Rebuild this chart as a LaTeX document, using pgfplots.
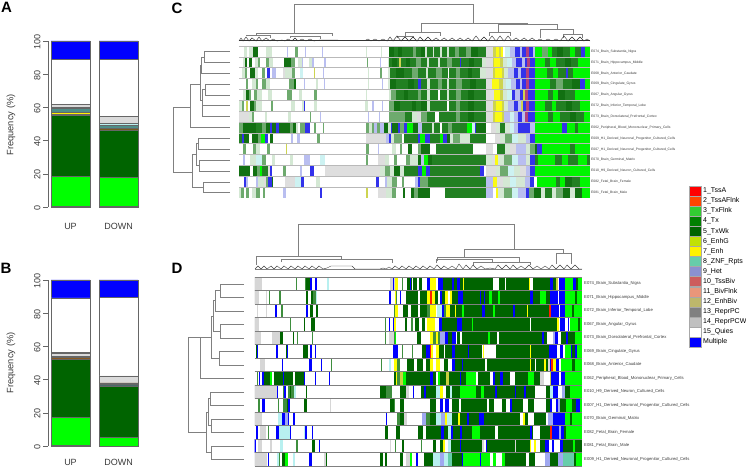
\documentclass[border=0pt]{standalone}
\usepackage{fontspec}
\setmainfont{Liberation Sans}
\usepackage{pgfplots}
\pgfplotsset{compat=1.18}
\definecolor{txtc}{HTML}{3A3A3A}
\definecolor{bedge}{HTML}{666666}
\definecolor{dgr}{HTML}{808080}
\definecolor{sbrown}{HTML}{8A5A20}
\definecolor{steal}{HTML}{4F8F88}
\definecolor{scyan}{HTML}{B8F0F0}
\definecolor{slg}{HTML}{DADADA}
\definecolor{sgr}{HTML}{A8A8A8}
\definecolor{sslate}{HTML}{4A6A6A}
\definecolor{sdg}{HTML}{006400}
\pgfplotsset{
 stcol/.style={colormap={st}{rgb255=(255,255,255) rgb255=(0,100,0) rgb255=(0,255,0) rgb255=(0,0,255) rgb255=(255,255,0) rgb255=(214,214,214) rgb255=(62,142,62) rgb255=(184,240,240) rgb255=(255,32,0) rgb255=(160,168,240) rgb255=(191,221,191) rgb255=(26,125,26) rgb255=(144,144,144) rgb255=(176,64,128) rgb255=(200,208,64) rgb255=(102,205,170)},
 colormap access=direct},
 stcolc/.style={colormap={stc}{rgb255=(255,255,255) rgb255=(18,112,18) rgb255=(0,245,0) rgb255=(50,50,235) rgb255=(250,250,20) rgb255=(222,222,222) rgb255=(110,170,110) rgb255=(205,242,242) rgb255=(240,50,20) rgb255=(185,190,240) rgb255=(212,232,212) rgb255=(34,128,34) rgb255=(160,160,160) rgb255=(176,64,128) rgb255=(205,212,80) rgb255=(120,205,175)},
 colormap access=direct},
 hm/.style={mesh,shader=flat corner,point meta=explicit,stcol,no markers,line cap=butt,forget plot},
 hmc/.style={mesh,shader=flat corner,point meta=explicit,stcolc,no markers,line cap=butt,forget plot},
 barax/.style={scale only axis,width=97pt,height=166pt,xmin=48,xmax=145,ymin=0,ymax=100,
  ybar stacked,bar width=39pt,bar shift=0pt,axis y line*=left,axis x line*=bottom,
  x axis line style={draw=none},y axis line style={bedge,line width=.5pt},
  xtick={70.5,118.5},xticklabels={UP,DOWN},xtick style={draw=none},
  ytick={0,20,40,60,80,100},tick align=outside,ytick style={bedge,line width=.5pt},
  major tick length=5pt,
  /pgf/number format/assume math mode=true,
  ticklabel style={font=\fontsize{9}{9}\selectfont,text=txtc},
  yticklabel style={rotate=90,anchor=south,xshift=-1pt,yshift=-1pt},
  every axis plot/.append style={draw=bedge,line width=.5pt},
  clip=false},
 dendro/.style={forget plot,no markers,dgr,line width=.5pt,unbounded coords=jump},
}
\newcommand\hr[3]{\addplot[hm,line width=#1pt] table[row sep=\\,header=false,x index=0,y expr=#2,meta index=1]{#3};}
\newcommand\hc[2]{\addplot[hmc,line width=10.9pt] table[row sep=\\,header=false,x index=0,y expr=#1,meta index=1]{#2};}
\newcommand\lab[3]{\node[anchor=west,inner sep=0pt,text=txtc,font=\fontsize{#1}{#1}\selectfont] at (axis cs:#2) {#3};}
\newcommand\leg[4]{\fill[fill=#2,draw=sgr,line width=.3pt] (axis cs:689,#1-5) rectangle (axis cs:701,#1+5);
 \node[anchor=west,inner sep=0pt,text=black,font=\fontsize{7}{7}\selectfont] at (axis cs:703,#1) {#3};}
\begin{document}
\begin{tikzpicture}[x=1pt,y=1pt]
\path[use as bounding box] (0,0) rectangle (746,468);
% Panel A
\begin{axis}[barax,xticklabel style={yshift=-8pt},at={(48pt,261pt)},anchor=south west]
\addplot[fill=black] coordinates {(70.5,0.5)(118.5,0.5)};
\addplot[fill=green] coordinates {(70.5,18)(118.5,17.5)};
\addplot[fill=sdg] coordinates {(70.5,36.5)(118.5,28.5)};
\addplot[fill=sbrown] coordinates {(70.5,0.8)(118.5,0.8)};
\addplot[fill=yellow] coordinates {(70.5,1.2)(118.5,0.2)};
\addplot[fill=steal] coordinates {(70.5,2.2)(118.5,1.7)};
\addplot[fill=scyan] coordinates {(70.5,0.8)(118.5,1)};
\addplot[fill=slg] coordinates {(70.5,2)(118.5,4.3)};
\addplot[fill=white] coordinates {(70.5,27)(118.5,34.5)};
\addplot[fill=blue] coordinates {(70.5,11)(118.5,11)};
\end{axis}
% Panel B
\begin{axis}[barax,xticklabel style={yshift=-5pt},at={(48pt,22pt)},anchor=south west]
\addplot[fill=black] coordinates {(70.5,0.3)(118.5,0)};
\addplot[fill=green] coordinates {(70.5,17)(118.5,5)};
\addplot[fill=sdg] coordinates {(70.5,34.7)(118.5,31)};
\addplot[fill=sslate] coordinates {(70.5,0)(118.5,1)};
\addplot[fill=sbrown] coordinates {(70.5,1.3)(118.5,1)};
\addplot[fill=sslate] coordinates {(70.5,1)(118.5,0)};
\addplot[fill=slg] coordinates {(70.5,1.7)(118.5,4.3)};
\addplot[fill=sgr] coordinates {(70.5,0.7)(118.5,0)};
\addplot[fill=white] coordinates {(70.5,32.6)(118.5,47.2)};
\addplot[fill=blue] coordinates {(70.5,10.7)(118.5,10.5)};
\end{axis}
% Heatmap C
\begin{axis}[at={(239pt,270pt)},anchor=south west,scale only axis,width=351pt,height=152pt,xmin=239,xmax=590,ymin=0,ymax=14,y dir=reverse,hide axis]
\hc{0.5}{239 0\\244 10\\247 0\\249 10\\253 1\\258 0\\266 10\\272 0\\287 9\\288 0\\295 6\\298 0\\305 9\\306 0\\322 9\\323 0\\366 10\\367 0\\381 10\\382 0\\389 1\\394 11\\398 1\\402 11\\413 6\\416 11\\421 1\\425 10\\427 11\\433 10\\434 11\\440 10\\442 11\\447 10\\449 11\\455 6\\459 11\\466 6\\471 1\\478 11\\486 5\\493 14\\496 4\\499 14\\501 4\\503 0\\505 7\\510 9\\515 3\\520 9\\522 3\\526 13\\529 3\\533 9\\535 2\\542 6\\548 2\\552 11\\557 1\\563 11\\570 2\\575 11\\581 3\\585 2\\590 2\\}
\hc{1.5}{239 0\\243 10\\245 1\\247 0\\249 1\\252 0\\255 10\\258 6\\260 0\\266 6\\269 10\\273 0\\284 1\\291 6\\295 0\\298 10\\302 9\\303 0\\309 10\\312 9\\314 0\\324 9\\326 0\\367 6\\368 0\\380 9\\381 0\\388 10\\389 11\\392 1\\397 11\\399 14\\401 11\\406 1\\410 11\\416 6\\421 11\\427 10\\429 11\\438 10\\440 11\\447 6\\452 11\\460 3\\461 11\\469 1\\474 11\\482 10\\486 5\\493 14\\494 4\\500 14\\503 10\\507 7\\512 9\\516 3\\522 9\\525 3\\527 13\\530 3\\535 2\\545 11\\550 2\\556 11\\565 1\\571 11\\578 2\\590 2\\}
\hc{2.5}{239 0\\242 10\\245 6\\247 0\\250 1\\255 10\\258 0\\262 6\\265 0\\267 3\\270 0\\272 9\\276 0\\283 5\\285 10\\292 6\\295 0\\300 7\\303 0\\314 14\\315 0\\323 9\\324 0\\368 10\\369 0\\380 6\\382 0\\388 10\\390 11\\396 1\\404 11\\412 6\\418 11\\426 10\\428 11\\436 6\\442 11\\448 0\\449 11\\456 6\\460 11\\468 1\\472 11\\480 10\\486 5\\493 14\\495 4\\502 14\\504 10\\508 9\\514 3\\518 9\\521 3\\526 13\\529 3\\535 2\\547 11\\553 2\\558 11\\566 3\\568 11\\573 2\\590 2\\}
\hc{3.5}{239 0\\246 6\\248 0\\252 10\\256 6\\258 0\\262 6\\266 10\\270 0\\289 6\\294 1\\296 0\\304 9\\305 0\\316 10\\318 0\\324 9\\325 0\\368 10\\369 0\\382 9\\383 0\\388 10\\390 1\\396 11\\408 1\\414 11\\418 3\\421 11\\427 10\\430 11\\438 6\\442 11\\447 10\\449 11\\456 6\\462 11\\470 1\\476 11\\486 5\\492 4\\499 14\\503 10\\506 7\\511 9\\516 3\\520 9\\522 3\\526 13\\529 3\\535 2\\550 11\\556 6\\563 11\\572 1\\580 3\\585 2\\590 2\\}
\hc{4.5}{239 0\\243 10\\246 1\\249 6\\251 0\\254 6\\257 10\\262 0\\268 10\\272 0\\287 6\\292 0\\299 10\\302 0\\314 6\\317 0\\366 10\\367 0\\389 10\\391 6\\396 11\\404 1\\408 11\\418 6\\421 11\\427 10\\430 11\\438 0\\440 11\\447 10\\449 11\\456 6\\461 11\\468 1\\474 11\\486 5\\494 4\\500 14\\503 10\\507 7\\512 3\\515 9\\520 3\\523 14\\525 13\\528 3\\535 2\\548 11\\553 2\\558 1\\565 11\\575 2\\590 2\\}
\hc{5.5}{239 10\\242 6\\244 0\\246 14\\248 0\\250 1\\254 6\\256 10\\262 0\\271 6\\273 0\\291 10\\295 0\\302 10\\304 3\\305 0\\314 10\\317 0\\365 10\\368 0\\372 9\\374 0\\382 9\\383 0\\389 6\\394 1\\400 11\\412 1\\416 11\\421 1\\427 10\\430 11\\447 0\\449 11\\456 6\\460 11\\468 1\\474 11\\486 5\\493 14\\496 4\\502 14\\504 10\\508 9\\514 3\\518 9\\521 14\\523 3\\526 13\\529 3\\535 2\\545 11\\552 2\\556 11\\566 1\\572 11\\580 2\\590 2\\}
\hc{6.5}{239 5\\249 10\\252 6\\254 0\\265 10\\267 0\\288 10\\291 0\\310 6\\311 0\\320 9\\321 0\\368 9\\369 0\\379 9\\380 0\\389 6\\405 11\\412 10\\417 5\\421 6\\427 11\\435 0\\439 11\\456 6\\460 11\\468 1\\474 11\\486 5\\493 14\\495 4\\502 14\\504 9\\510 7\\514 9\\518 3\\522 9\\525 13\\528 3\\535 2\\548 11\\553 2\\560 11\\570 1\\576 11\\584 2\\590 2\\}
\hc{7.5}{239 6\\243 1\\256 11\\262 6\\266 1\\270 3\\272 1\\276 3\\279 1\\290 6\\293 1\\296 10\\298 0\\300 6\\305 3\\310 0\\314 6\\316 0\\323 6\\324 0\\366 6\\369 10\\372 6\\374 9\\377 6\\380 9\\384 1\\388 10\\391 3\\392 1\\398 3\\400 6\\404 3\\407 2\\413 1\\418 9\\422 11\\432 10\\434 11\\440 0\\442 11\\448 6\\452 11\\467 2\\472 7\\475 3\\476 1\\486 0\\491 5\\496 10\\500 11\\505 10\\510 7\\514 9\\518 3\\530 9\\535 2\\562 3\\567 2\\575 11\\578 2\\590 2\\}
\hc{8.5}{239 11\\242 3\\244 1\\249 0\\252 1\\258 6\\261 2\\265 3\\268 0\\270 1\\273 0\\291 9\\293 0\\297 9\\300 0\\317 6\\320 0\\366 5\\386 9\\389 3\\391 10\\394 6\\402 0\\404 11\\418 3\\420 2\\425 3\\430 11\\440 2\\443 3\\447 1\\450 10\\453 6\\460 10\\470 11\\486 0\\495 5\\500 10\\505 6\\512 7\\518 10\\526 9\\530 3\\535 2\\590 2\\}
\hc{9.5}{239 0\\243 6\\246 0\\253 6\\256 10\\260 0\\267 6\\270 0\\286 14\\287 0\\366 6\\369 0\\378 9\\379 0\\392 10\\396 0\\400 6\\402 0\\408 1\\412 0\\418 6\\421 1\\430 0\\436 11\\473 0\\486 5\\493 0\\497 11\\505 10\\510 5\\516 9\\526 10\\530 6\\535 1\\537 3\\542 2\\570 11\\575 2\\590 1\\}
\hc{10.5}{239 0\\243 9\\245 0\\250 10\\256 7\\262 6\\266 0\\272 10\\275 0\\290 10\\293 0\\304 9\\310 0\\320 7\\325 0\\366 6\\368 0\\378 5\\385 10\\389 0\\394 6\\397 0\\406 6\\410 10\\418 1\\421 9\\424 2\\428 1\\432 11\\486 10\\492 5\\495 4\\498 10\\504 6\\512 7\\518 9\\526 10\\530 3\\535 11\\538 2\\555 11\\562 2\\568 11\\578 2\\587 11\\590 1\\}
\hc{11.5}{239 1\\250 0\\253 1\\257 6\\260 2\\262 11\\268 5\\270 3\\272 0\\283 6\\286 0\\300 9\\302 0\\310 3\\314 0\\325 5\\366 5\\380 10\\385 6\\390 10\\394 1\\400 10\\404 11\\418 3\\422 2\\426 3\\430 11\\480 3\\484 0\\486 5\\496 10\\500 6\\508 7\\514 10\\520 5\\526 9\\530 3\\535 2\\590 2\\}
\hc{12.5}{239 0\\244 3\\246 9\\248 0\\256 9\\258 10\\264 5\\266 6\\268 3\\272 1\\273 0\\285 5\\295 7\\301 3\\304 0\\316 10\\320 0\\366 0\\376 3\\379 0\\385 9\\387 10\\392 6\\397 0\\402 6\\404 0\\415 9\\418 3\\420 6\\428 11\\486 9\\493 4\\497 5\\503 10\\510 7\\516 10\\525 9\\530 3\\534 0\\537 2\\556 11\\560 2\\565 1\\572 11\\580 2\\590 2\\}
\hc{13.5}{239 10\\241 6\\244 0\\246 6\\249 0\\252 10\\256 6\\260 0\\263 6\\265 0\\283 9\\286 0\\320 3\\322 0\\366 14\\368 0\\378 5\\386 10\\392 6\\396 0\\403 1\\405 0\\411 1\\414 6\\418 1\\430 0\\445 11\\486 9\\493 0\\496 4\\498 10\\504 6\\512 7\\518 9\\526 3\\529 6\\534 1\\541 10\\545 11\\552 10\\556 6\\563 1\\570 10\\575 1\\582 2\\590 2\\}
\addplot[forget plot,no markers,color=sgr!80!white,line width=.6pt,unbounded coords=jump] coordinates {(239,0)(590,0)(239,nan)(239,1)(590,1)(239,nan)(239,2)(590,2)(239,nan)(239,3)(590,3)(239,nan)(239,4)(590,4)(239,nan)(239,5)(590,5)(239,nan)(239,6)(590,6)(239,nan)(239,7)(590,7)(239,nan)(239,8)(590,8)(239,nan)(239,9)(590,9)(239,nan)(239,10)(590,10)(239,nan)(239,11)(590,11)(239,nan)(239,12)(590,12)(239,nan)(239,13)(590,13)};
\end{axis}
% Heatmap D
\begin{axis}[at={(254.7pt,2pt)},anchor=south west,scale only axis,width=327.3pt,height=189pt,xmin=254.7,xmax=582,ymin=0,ymax=14,y dir=reverse,hide axis]
\hr{13.6}{0.5}{254 5\\262 0\\296 6\\297 0\\305 6\\306 1\\310 3\\312 0\\315 3\\317 0\\327 7\\329 0\\390 5\\393 3\\394 5\\395 4\\398 0\\402 6\\403 0\\407 1\\410 3\\411 1\\412 0\\413 1\\417 0\\419 1\\422 0\\427 3\\430 4\\436 0\\438 3\\443 1\\452 3\\454 1\\457 3\\460 1\\463 4\\464 1\\493 0\\499 1\\505 0\\506 1\\529 4\\530 0\\533 1\\550 3\\553 1\\556 14\\558 0\\559 3\\565 2\\573 3\\576 1\\578 2\\582 2\\}
\hr{13.6}{1.5}{254 5\\259 0\\266 5\\267 0\\269 6\\270 0\\279 6\\281 0\\306 1\\308 0\\311 1\\313 6\\316 7\\317 0\\389 3\\391 0\\395 4\\396 6\\397 0\\400 3\\401 0\\406 1\\418 0\\420 1\\427 4\\430 8\\432 4\\435 1\\438 0\\440 3\\442 1\\445 4\\448 0\\450 4\\452 1\\458 3\\463 1\\480 3\\481 1\\484 3\\485 1\\489 2\\492 1\\498 2\\500 1\\530 3\\533 1\\540 2\\546 1\\550 3\\558 0\\559 3\\565 2\\575 1\\577 2\\582 2\\}
\hr{13.6}{2.5}{254 0\\257 5\\258 0\\266 5\\267 0\\275 3\\277 0\\281 6\\283 0\\306 3\\308 0\\310 1\\313 0\\316 1\\318 0\\394 6\\395 4\\398 0\\403 1\\408 0\\411 1\\418 0\\420 1\\427 6\\430 4\\436 0\\437 7\\442 3\\444 6\\446 4\\450 1\\455 4\\456 1\\462 2\\464 1\\482 3\\485 1\\493 2\\495 1\\513 3\\515 1\\527 4\\528 1\\549 8\\551 3\\559 0\\560 3\\565 2\\572 1\\574 2\\582 2\\}
\hr{13.6}{3.5}{254 5\\259 0\\290 6\\291 0\\304 1\\305 0\\311 1\\315 0\\385 6\\386 0\\389 3\\390 0\\393 3\\394 4\\396 0\\405 1\\407 0\\411 6\\413 0\\415 1\\419 0\\422 1\\425 0\\427 4\\430 4\\435 0\\439 3\\442 1\\449 1\\457 3\\462 1\\472 2\\473 1\\530 0\\531 1\\556 1\\557 4\\559 0\\560 3\\565 0\\568 3\\569 0\\570 2\\578 1\\580 2\\582 2\\}
\hr{13.6}{4.5}{254 5\\261 0\\272 5\\280 1\\283 0\\293 1\\294 0\\297 6\\298 0\\312 6\\313 0\\385 6\\386 0\\389 5\\394 6\\395 2\\396 0\\417 1\\421 0\\430 4\\433 6\\436 4\\438 6\\440 9\\445 3\\448 1\\452 3\\456 0\\457 1\\460 0\\462 1\\488 2\\490 1\\497 0\\499 1\\542 3\\544 1\\547 0\\553 9\\555 3\\558 0\\561 1\\566 3\\568 1\\575 2\\582 2\\}
\hr{13.6}{5.5}{254 0\\256 1\\257 3\\258 0\\276 3\\278 0\\286 1\\287 3\\288 0\\303 1\\308 0\\310 3\\312 0\\315 3\\316 0\\393 3\\398 0\\402 6\\403 0\\412 6\\413 0\\422 1\\426 3\\430 8\\431 4\\433 0\\436 4\\439 1\\444 0\\445 1\\452 3\\455 1\\468 3\\469 1\\482 0\\483 4\\484 0\\496 1\\530 4\\531 1\\549 3\\557 0\\560 3\\563 0\\565 2\\571 3\\572 1\\575 3\\577 2\\582 2\\}
\hr{13.6}{6.5}{254 0\\260 5\\265 0\\282 3\\283 0\\309 3\\312 0\\321 3\\322 0\\331 6\\332 0\\381 6\\382 0\\389 7\\391 0\\394 4\\397 6\\400 0\\407 1\\414 0\\417 1\\423 0\\426 1\\430 4\\433 0\\436 4\\440 0\\444 1\\448 0\\452 3\\455 1\\462 3\\463 1\\480 1\\485 0\\487 1\\530 4\\531 1\\535 0\\536 1\\544 4\\546 1\\548 5\\550 3\\551 8\\553 4\\556 3\\559 0\\561 2\\572 1\\575 2\\582 2\\}
\hr{13.6}{7.5}{254 0\\257 6\\258 0\\259 3\\260 0\\262 3\\264 1\\270 2\\272 0\\274 1\\283 3\\284 1\\293 0\\295 1\\304 3\\305 0\\315 3\\316 0\\329 3\\330 0\\394 1\\396 4\\397 6\\400 14\\403 2\\406 1\\430 3\\433 1\\436 0\\438 2\\440 1\\446 14\\449 1\\460 3\\461 1\\466 2\\476 0\\478 1\\490 0\\493 3\\495 1\\500 3\\503 1\\510 0\\515 1\\528 2\\534 1\\540 5\\544 0\\550 14\\551 3\\559 0\\561 3\\565 2\\582 2\\}
\hr{13.6}{8.5}{254 5\\277 3\\278 0\\283 6\\284 3\\286 0\\288 6\\290 1\\291 6\\294 7\\296 0\\306 1\\307 0\\380 1\\386 6\\392 0\\400 1\\406 5\\409 0\\413 3\\414 0\\421 1\\424 3\\426 1\\430 1\\436 7\\440 4\\443 0\\446 1\\450 7\\452 1\\460 2\\476 1\\481 2\\484 1\\495 3\\497 1\\515 3\\516 1\\524 3\\526 1\\535 0\\546 1\\550 7\\553 3\\558 0\\562 9\\565 1\\570 2\\582 2\\}
\hr{13.6}{9.5}{254 0\\258 6\\260 0\\262 3\\265 0\\278 6\\279 0\\283 6\\287 1\\288 3\\290 0\\304 1\\307 0\\330 5\\331 0\\390 1\\394 6\\395 0\\400 1\\404 0\\430 1\\436 0\\440 3\\443 0\\445 3\\449 0\\452 1\\459 0\\461 1\\487 0\\489 1\\494 0\\502 1\\506 0\\510 3\\512 1\\523 0\\528 1\\534 0\\546 1\\550 3\\552 0\\556 3\\558 9\\560 1\\566 2\\572 1\\576 3\\580 2\\582 2\\}
\hr{13.6}{10.5}{254 5\\262 0\\278 7\\282 3\\285 9\\288 3\\289 0\\293 3\\295 0\\386 3\\387 0\\397 6\\400 1\\404 5\\407 0\\422 9\\426 6\\430 1\\436 7\\441 9\\445 4\\447 7\\452 1\\458 4\\460 1\\467 3\\469 1\\479 3\\484 1\\520 0\\523 4\\525 1\\528 0\\534 1\\546 0\\548 9\\553 3\\565 2\\570 1\\572 2\\582 2\\}
\hr{13.6}{11.5}{254 0\\256 3\\258 0\\260 5\\266 0\\268 6\\269 0\\276 3\\279 7\\290 3\\291 0\\304 7\\305 3\\307 0\\312 3\\313 0\\385 1\\388 0\\396 1\\400 0\\418 1\\423 0\\426 1\\441 3\\444 1\\448 7\\451 3\\453 1\\460 3\\462 1\\472 2\\480 1\\495 0\\498 1\\530 3\\532 1\\533 0\\540 1\\550 8\\552 3\\559 9\\561 3\\564 1\\566 2\\582 2\\}
\hr{13.6}{12.5}{254 3\\256 0\\258 5\\262 0\\270 5\\272 0\\280 7\\283 0\\296 6\\298 0\\312 1\\315 0\\319 3\\320 0\\390 5\\391 0\\395 6\\396 0\\402 1\\404 0\\421 6\\422 0\\433 1\\436 0\\440 1\\443 4\\445 0\\448 7\\451 1\\460 3\\461 1\\482 5\\484 0\\486 3\\487 1\\515 5\\516 1\\530 4\\531 0\\534 4\\536 0\\540 1\\545 3\\549 0\\552 3\\554 0\\560 3\\563 1\\573 2\\575 1\\582 1\\}
\hr{13.6}{13.5}{254 5\\267 0\\268 3\\269 0\\277 7\\279 6\\280 0\\282 1\\285 2\\288 0\\293 7\\295 0\\309 3\\312 0\\324 5\\326 1\\327 0\\380 1\\383 0\\385 1\\387 0\\400 1\\403 0\\406 5\\410 2\\412 0\\416 3\\418 0\\424 1\\433 7\\440 9\\444 7\\448 15\\452 1\\462 3\\463 2\\480 3\\481 2\\490 0\\493 2\\496 0\\502 2\\505 1\\526 0\\529 1\\535 0\\545 9\\550 1\\558 9\\563 15\\574 1\\576 2\\582 2\\}
\addplot[forget plot,no markers,color=dgr,line width=.6pt,unbounded coords=jump] coordinates {(254.7,0)(582,0)(254.7,nan)(254.7,1)(582,1)(254.7,nan)(254.7,2)(582,2)(254.7,nan)(254.7,3)(582,3)(254.7,nan)(254.7,4)(582,4)(254.7,nan)(254.7,5)(582,5)(254.7,nan)(254.7,6)(582,6)(254.7,nan)(254.7,7)(582,7)(254.7,nan)(254.7,8)(582,8)(254.7,nan)(254.7,9)(582,9)(254.7,nan)(254.7,10)(582,10)(254.7,nan)(254.7,11)(582,11)(254.7,nan)(254.7,12)(582,12)(254.7,nan)(254.7,13)(582,13)(254.7,nan)(254.7,14)(582,14)};
\end{axis}
% Overlay in picture pixels
\begin{axis}[at={(0pt,0pt)},anchor=south west,scale only axis,width=746pt,height=468pt,xmin=0,xmax=746,ymin=0,ymax=468,y dir=reverse,hide axis,clip=false]
% dendrogram C top
\addplot[dendro] coordinates {(294,33)(294,4)(473,4)(473,23)(nan,nan)(256,36)(256,33)(332,33)(332,36)(nan,nan)(421,32)(421,23)(527,23)(527,24)(nan,nan)(498,32)(498,24)(557,24)(557,29)(nan,nan)(489,36)(489,32)(510,32)(510,36)(nan,nan)(540,38)(540,29)(573,29)(573,35)(nan,nan)(405,36)(405,32)(440,32)(440,36)(nan,nan)(246,36)(246,35)(270,35)(270,38)(nan,nan)(290,38)(290,36)(320,36)(320,39)(nan,nan)(397,38)(397,36)(413,36)(413,38)(nan,nan)(563,38)(563,34)(582,34)(582,38)};
\addplot[forget plot,no markers,color=black!85,line width=.4pt] coordinates {(239,41)(241,38)(243,41)(246,37)(249,41)(252,38)(256,41)(259,37)(262,41)(266,38)(270,41)(273,39)(277,41)(282,40)(285,41)(288,39)(292,41)(295,38)(298,41)(302,39)(306,41)(310,39)(314,41)(320,40)(365,40.5)(368,39)(371,41)(375,39)(379,41)(383,39)(387,41)(390,37)(393,41)(397,36)(401,41)(405,37)(409,41)(413,37)(417,41)(420,37)(424,41)(428,37)(432,41)(436,38)(440,41)(444,38)(448,41)(452,38)(456,41)(460,38)(464,41)(468,38)(472,41)(476,36)(480,41)(484,37)(488,41)(492,36)(496,41)(500,36)(504,41)(508,36)(512,41)(516,38)(520,41)(524,38)(528,41)(532,38)(536,41)(540,39)(544,41)(548,39)(552,41)(556,39)(560,41)(564,36)(568,41)(572,37)(576,41)(580,37)(584,41)(587,39)(590,41)};
\addplot[forget plot,no markers,color=black!80,line width=.8pt] coordinates {(239,40.8)(590,40.8)};
% dendrogram C left
\addplot[dendro] coordinates {(190,107)(173,107)(173,172)(192,172)(nan,nan)(200.7,84)(190,84)(190,127.5)(230,127.5)(nan,nan)(201,65)(200.7,65)(200.7,100)(202.5,100)(nan,nan)(204,51.4)(230,51.4)(nan,nan)(230,62.3)(204,62.3)(204,51.4)(nan,nan)(204,56.8)(201,56.8)(201,73.2)(230,73.2)(nan,nan)(230,84)(205,84)(205,94.9)(230,94.9)(nan,nan)(230,105.7)(202,105.7)(202,116.6)(230,116.6)(nan,nan)(205,89.5)(202.5,89.5)(202.5,111)(202,111)(nan,nan)(203,181.8)(230,181.8)(nan,nan)(230,192.6)(203,192.6)(203,181.8)(nan,nan)(203,187)(192,187)(192,154.6)(196.7,154.6)(nan,nan)(230,138.3)(198,138.3)(198,149.2)(230,149.2)(nan,nan)(230,160)(199,160)(199,170.9)(230,170.9)(nan,nan)(198,143.7)(196.7,143.7)(196.7,165.5)(199,165.5)};
% dendrogram D top
\addplot[dendro] coordinates {(298,256)(298,224)(514,224)(514,249)(nan,nan)(256,265)(256,256)(341,256)(341,259)(nan,nan)(281,262)(281,259)(392,259)(392,263)(nan,nan)(464,257)(464,249)(563,249)(563,253)(nan,nan)(437,261)(437,257)(519,257)(519,262)(nan,nan)(556,264)(556,253)(571,253)(571,264)(nan,nan)(436,263)(436,259)(492,259)(492,263)(nan,nan)(473,265)(473,262)(530,262)(530,265)};
\addplot[forget plot,no markers,color=black!75,line width=.4pt] coordinates {(255,269)(258,266)(261,269)(264,266)(267,269)(271,266)(274,269)(277,266)(281,269)(284,266)(288,269)(291,266)(295,269)(298,266)(302,269)(305,266)(309,269)(312,266)(316,269)(319,266)(323,269)(327,268)(331,266)(352,266)(355,269)(380,269)(383,268)(386,269)(389,267)(392,269)(395,266)(399,269)(402,266)(406,269)(409,266)(413,269)(416,266)(420,269)(423,266)(427,269)(430,266)(434,269)(437,265)(441,269)(444,266)(448,269)(452,266)(456,269)(459,264)(463,269)(466,265)(470,269)(473,265)(477,269)(481,266)(485,269)(490,268)(495,269)(498,265)(502,269)(506,265)(510,269)(513,265)(517,269)(521,266)(525,269)(529,265)(533,269)(537,266)(541,269)(545,266)(549,269)(552,265)(556,269)(560,265)(564,269)(567,265)(571,269)(575,265)(579,269)(582,269)};
\addplot[forget plot,no markers,color=dgr,line width=.6pt] coordinates {(255,269)(582,269)};
% dendrogram D left
\addplot[dendro] coordinates {(200.7,337)(188,337)(188,432)(206,432)(nan,nan)(211.7,337)(200.7,337)(200.7,378.25)(244,378.25)(nan,nan)(244,283.75)(220,283.75)(220,297.25)(244,297.25)(nan,nan)(220,290.5)(215.7,290.5)(215.7,310.75)(244,310.75)(nan,nan)(244,324.25)(220,324.25)(220,337.75)(244,337.75)(nan,nan)(244,351.25)(219,351.25)(219,364.75)(244,364.75)(nan,nan)(215.7,300.6)(213.3,300.6)(213.3,331)(220,331)(nan,nan)(213.3,316)(211.7,316)(211.7,358)(219,358)(nan,nan)(244,391.75)(210,391.75)(210,405.25)(244,405.25)(nan,nan)(244,418.75)(211.7,418.75)(211.7,432.25)(244,432.25)(nan,nan)(210,398.5)(208.3,398.5)(208.3,425.5)(211.7,425.5)(nan,nan)(244,445.75)(211.7,445.75)(211.7,459.25)(244,459.25)(nan,nan)(208.3,412)(206,412)(206,452.5)(211.7,452.5)};
% text
\node[font=\fontsize{15}{15}\selectfont\bfseries] at (axis cs:6.5,7.5) {A};
\node[font=\fontsize{15}{15}\selectfont\bfseries] at (axis cs:6,268.5) {B};
\node[font=\fontsize{15}{15}\selectfont\bfseries] at (axis cs:177,8) {C};
\node[font=\fontsize{15}{15}\selectfont\bfseries] at (axis cs:177,268.5) {D};
\node[rotate=90,text=txtc,font=\fontsize{9.3}{9.3}\selectfont] at (axis cs:11,125) {Frequency (\%)};
\node[rotate=90,text=txtc,font=\fontsize{9.3}{9.3}\selectfont] at (axis cs:11,363) {Frequency (\%)};
\lab{3.35}{591,51.4}{E074\_Brain\_Substantia\_Nigra}
\lab{3.35}{591,62.3}{E071\_Brain\_Hippocampus\_Middle}
\lab{3.35}{591,73.2}{E068\_Brain\_Anterior\_Caudate}
\lab{3.35}{591,84}{E069\_Brain\_Cingulate\_Gyrus}
\lab{3.35}{591,94.9}{E067\_Brain\_Angular\_Gyrus}
\lab{3.35}{591,105.7}{E072\_Brain\_Inferior\_Temporal\_Lobe}
\lab{3.35}{591,116.6}{E073\_Brain\_Dorsolateral\_Prefrontal\_Cortex}
\lab{3.35}{591,127.5}{E062\_Peripheral\_Blood\_Mononuclear\_Primary\_Cells}
\lab{3.35}{591,138.3}{E009\_H1\_Derived\_Neuronal\_Progenitor\_Cultured\_Cells}
\lab{3.35}{591,149.2}{E007\_H1\_Derived\_Neuronal\_Progenitor\_Cultured\_Cells}
\lab{3.35}{591,160}{E070\_Brain\_Germinal\_Matrix}
\lab{3.35}{591,170.9}{E010\_H9\_Derived\_Neuron\_Cultured\_Cells}
\lab{3.35}{591,181.8}{E082\_Fetal\_Brain\_Female}
\lab{3.35}{591,192.6}{E081\_Fetal\_Brain\_Male}
\lab{4.2}{584,283.75}{E074\_Brain\_Substantia\_Nigra}
\lab{4.2}{584,297.25}{E071\_Brain\_Hippocampus\_Middle}
\lab{4.2}{584,310.75}{E072\_Brain\_Inferior\_Temporal\_Lobe}
\lab{4.2}{584,324.25}{E067\_Brain\_Angular\_Gyrus}
\lab{4.2}{584,337.75}{E073\_Brain\_Dorsolateral\_Prefrontal\_Cortex}
\lab{4.2}{584,351.25}{E069\_Brain\_Cingulate\_Gyrus}
\lab{4.2}{584,364.75}{E068\_Brain\_Anterior\_Caudate}
\lab{4.2}{584,378.25}{E062\_Peripheral\_Blood\_Mononuclear\_Primary\_Cells}
\lab{4.2}{584,391.75}{E010\_H9\_Derived\_Neuron\_Cultured\_Cells}
\lab{4.2}{584,405.25}{E007\_H1\_Derived\_Neuronal\_Progenitor\_Cultured\_Cells}
\lab{4.2}{584,418.75}{E070\_Brain\_Germinal\_Matrix}
\lab{4.2}{584,432.25}{E082\_Fetal\_Brain\_Female}
\lab{4.2}{584,445.75}{E081\_Fetal\_Brain\_Male}
\lab{4.2}{584,459.25}{E009\_H1\_Derived\_Neuronal\_Progenitor\_Cultured\_Cells}
% legend
\leg{191}{red}{1\_TssA}{}
\leg{201.07}{{rgb,255:red,255;green,69;blue,0}}{2\_TssAFlnk}{}
\leg{211.13}{{rgb,255:red,50;green,205;blue,50}}{3\_TxFlnk}{}
\leg{221.2}{{rgb,255:red,0;green,128;blue,0}}{4\_Tx}{}
\leg{231.27}{{rgb,255:red,0;green,100;blue,0}}{5\_TxWk}{}
\leg{241.33}{{rgb,255:red,194;green,225;blue,5}}{6\_EnhG}{}
\leg{251.4}{yellow}{7\_Enh}{}
\leg{261.47}{{rgb,255:red,102;green,205;blue,170}}{8\_ZNF\_Rpts}{}
\leg{271.53}{{rgb,255:red,138;green,145;blue,208}}{9\_Het}{}
\leg{281.6}{{rgb,255:red,205;green,92;blue,92}}{10\_TssBiv}{}
\leg{291.67}{{rgb,255:red,233;green,150;blue,122}}{11\_BivFlnk}{}
\leg{301.73}{{rgb,255:red,189;green,183;blue,107}}{12\_EnhBiv}{}
\leg{311.8}{{rgb,255:red,128;green,128;blue,128}}{13\_ReprPC}{}
\leg{321.87}{{rgb,255:red,192;green,192;blue,192}}{14\_ReprPCW}{}
\leg{331.93}{white}{15\_Quies}{}
\leg{342}{blue}{Multiple}{}
\end{axis}
\end{tikzpicture}
\end{document}
